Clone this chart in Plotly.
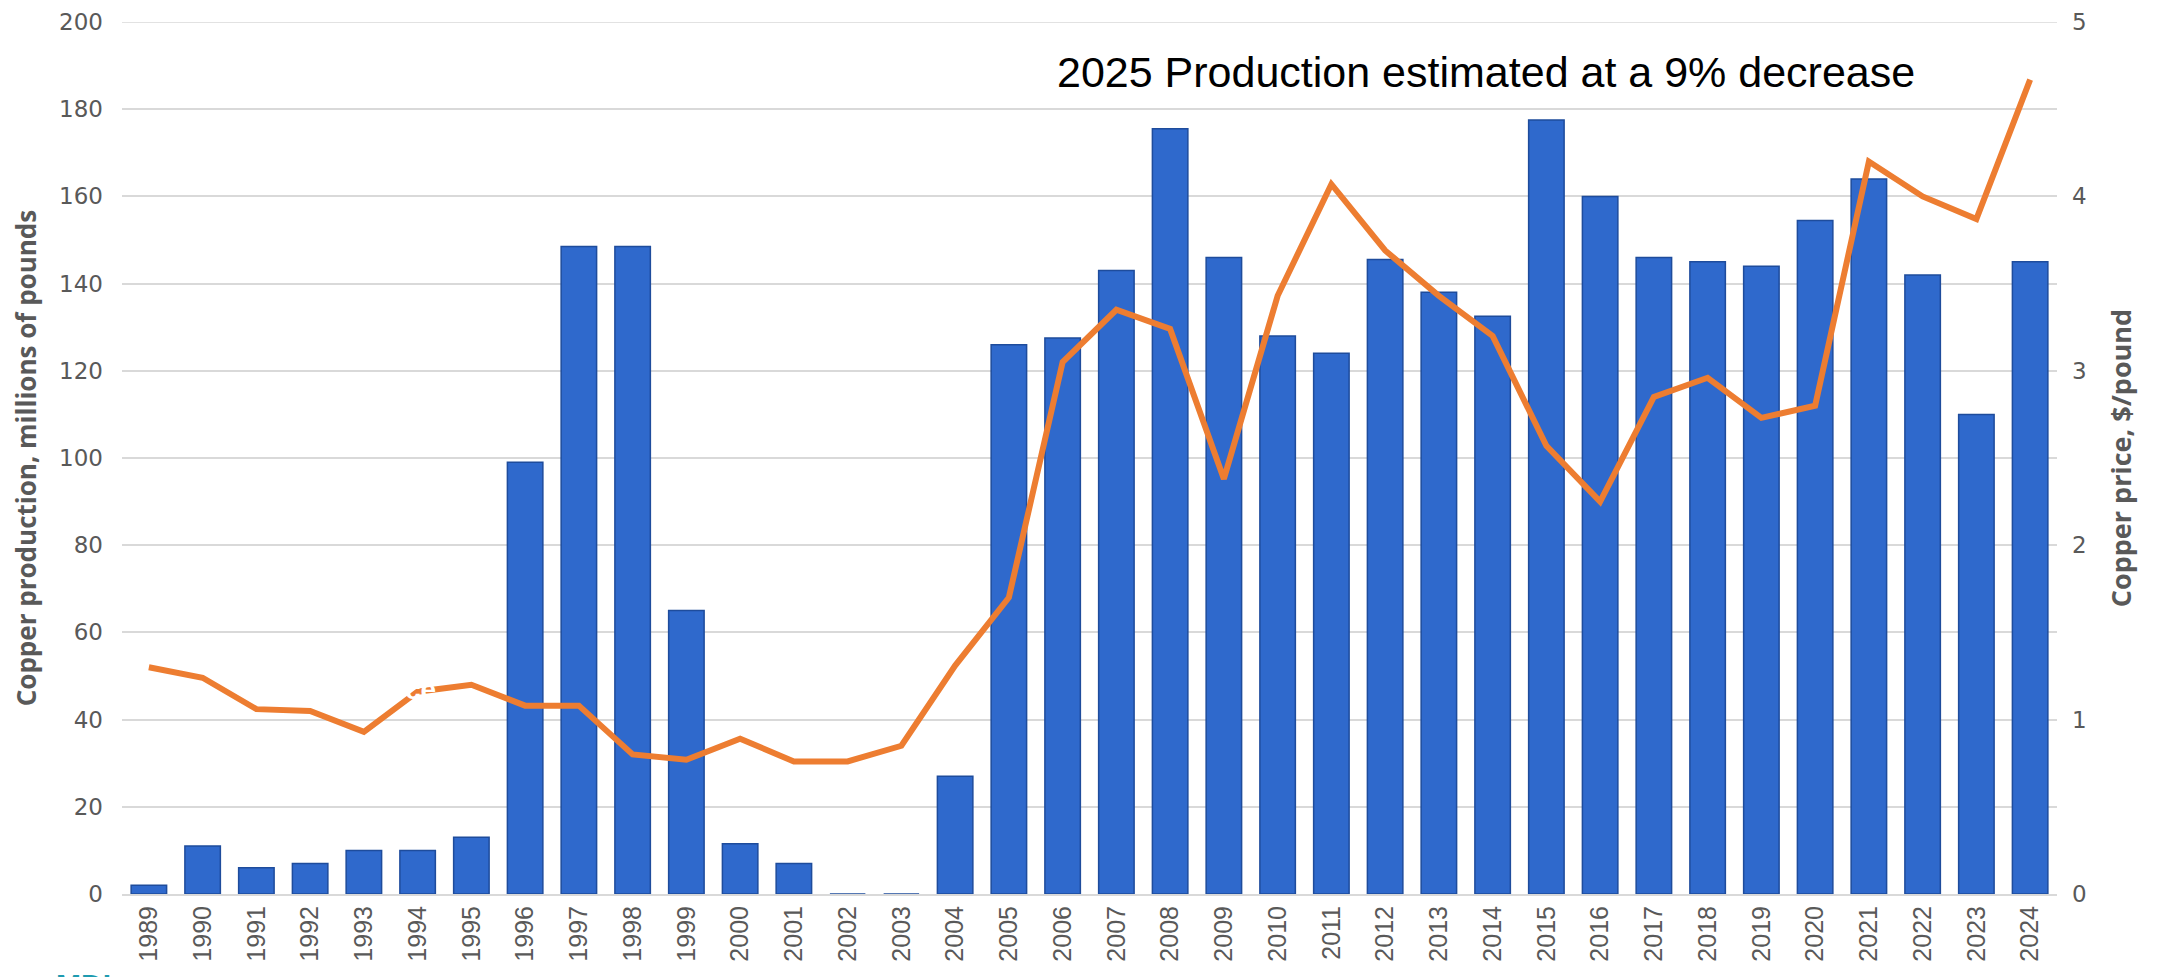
import plotly.graph_objects as go

# Years on the category axis
years = [str(y) for y in range(1989, 2025)]

# Copper production, millions of pounds (bars, left axis)
production = [2, 11, 6, 7, 10, 10, 13, 99, 148.5, 148.5, 65, 11.5, 7, 0, 0, 27,
              126, 127.5, 143, 175.5, 146, 128, 124, 145.5, 138, 132.5, 177.5,
              160, 146, 145, 144, 154.5, 164, 142, 110, 145]

# Copper price, $/pound (line, right axis)
price = [1.30, 1.24, 1.06, 1.05, 0.93, 1.16, 1.20, 1.08, 1.08, 0.80, 0.77, 0.89,
         0.76, 0.76, 0.85, 1.31, 1.70, 3.05, 3.35, 3.24, 2.38, 3.43, 4.07, 3.69,
         3.43, 3.20, 2.57, 2.25, 2.85, 2.96, 2.73, 2.80, 4.20, 4.00, 3.87, 4.67]

left_ticks = list(range(0, 201, 20))
right_ticks = [0, 1, 2, 3, 4, 5]

grey = "#595959"
grid = "#D9D9D9"

fig = go.Figure()

fig.add_trace(go.Bar(
    x=years, y=production, name="Production",
    marker=dict(color="#2F69CC", line=dict(color="#1E4C9C", width=1.5)),
    width=0.66,
))

fig.add_trace(go.Scatter(
    x=years, y=price, name="Price", yaxis="y2", mode="lines",
    line=dict(color="#ED7D31", width=6),
))

# page body adds an 8px offset, margins compensate for it
fig.update_layout(
    width=2167, height=977,
    margin=dict(l=114, r=118, t=14, b=91),
    plot_bgcolor="white", paper_bgcolor="white",
    showlegend=False,
    font=dict(family="Open Sans, sans-serif", color=grey),
    xaxis=dict(
        type="category", categoryorder="array", categoryarray=years,
        tickangle=-90, tickfont=dict(size=25, color=grey, family="Liberation Sans"),
        showgrid=False, showline=True, linecolor=grid, linewidth=2, ticks="",
        automargin=False,
    ),
    yaxis=dict(
        range=[0, 200], tickvals=left_ticks, showgrid=True, gridcolor=grid, gridwidth=1.5,
        zeroline=False, tickfont=dict(size=23, color=grey, family="DejaVu Sans"),
        ticklabelstandoff=18, automargin=False, ticklabeloverflow="allow",
        title=dict(text="<b>Copper production, millions of pounds</b>",
                   font=dict(size=26, color=grey, family="Open Sans"),
                   standoff=14),
    ),
    yaxis2=dict(
        range=[0, 5], tickvals=right_ticks, overlaying="y", side="right",
        showgrid=False, zeroline=False, automargin=False, ticklabeloverflow="allow",
        tickfont=dict(size=23, color=grey, family="DejaVu Sans"),
        ticklabelstandoff=14,
        title=dict(text="<b>Copper price, $/pound</b>",
                   font=dict(size=27, color=grey, family="Open Sans"),
                   standoff=26),
    ),
)

# top gridline at 200, which sits on the plot edge
fig.add_hline(y=200, line=dict(color=grid, width=1.5), layer="below")

fig.add_annotation(
    text="2025 Production estimated at a 9% decrease",
    xref="paper", yref="paper", x=0.705, y=0.943, xanchor="center", yanchor="middle",
    showarrow=False, font=dict(size=43, color="black", family="Liberation Sans"),
)

fig.add_annotation(
    text="<b>ce</b>", xref="x", yref="y2", x=5.05, y=1.17, showarrow=False,
    font=dict(size=28, color="white", family="Liberation Sans"),
)

fig.add_annotation(
    text="<b>MDI</b>", xref="paper", yref="paper", x=-0.02, y=-0.083,
    xanchor="center", yanchor="top", showarrow=False,
    font=dict(size=30, color="#1E9BB0", family="Liberation Sans"),
)

fig.write_html("out.html")
